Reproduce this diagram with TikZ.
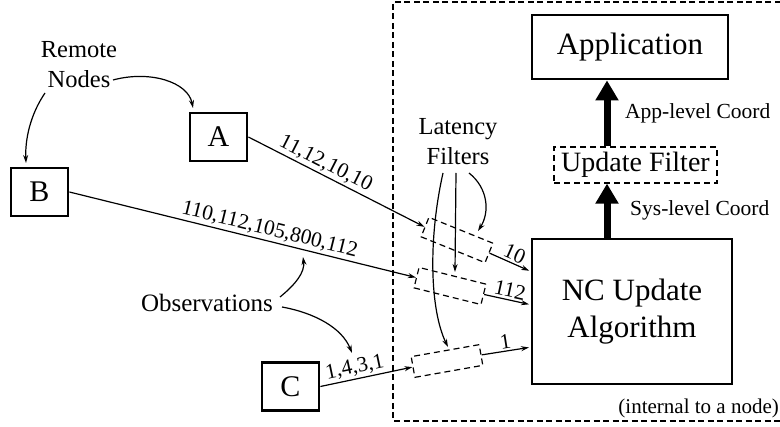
\documentclass[tikz,border=0pt]{standalone}
\usepackage{fontspec}
\setmainfont{Liberation Serif}
\usetikzlibrary{arrows.meta,calc}
\begin{document}
\begin{tikzpicture}[x=1pt,y=-1pt,
  solidbox/.style={draw,line width=2.8pt,inner sep=0pt},
  filterbox/.style={draw,line width=1.2pt,dash pattern=on 6pt off 4pt,minimum width=69pt,minimum height=21pt,inner sep=0pt},
  thinarrow/.style={line width=1.2pt,-{Stealth[length=8pt,width=5pt]}},
  bigarrow/.style={line width=7pt,-{Triangle[length=20pt,width=22pt]}},
  lbl/.style={font=\fontsize{21.5}{24}\selectfont, sloped, above, inner sep=2pt},
  txt/.style={font=\fontsize{24.5}{30}\selectfont, align=center, inner sep=0pt}
]
\useasboundingbox (0,0) rectangle (780,427);

% outer dashed region (cut at right edge)
\draw[line width=1.1pt,dash pattern=on 6pt off 3.5pt] (790,2) -- (393,2) -- (393,421) -- (790,421);

% main boxes
\node[solidbox,minimum width=196pt,minimum height=64pt,font=\fontsize{31}{36}\selectfont] (App) at (630,47) {Application};
\node[draw,line width=1.2pt,dash pattern=on 6pt off 4pt,minimum width=163pt,minimum height=36pt,inner sep=0pt,font=\fontsize{28}{32}\selectfont] (UF) at (635.5,165) {Update Filter};
\node[solidbox,minimum width=200pt,minimum height=145pt,align=center,font=\fontsize{31}{37}\selectfont] (NC) at (632,311.5) {NC Update\\Algorithm};

% remote nodes
\node[solidbox,minimum width=57pt,minimum height=48pt,font=\fontsize{30}{34}\selectfont] (A) at (218.5,137) {A};
\node[solidbox,minimum width=57pt,minimum height=48pt,font=\fontsize{30}{34}\selectfont] (B) at (39.5,192) {B};
\node[solidbox,minimum width=57pt,minimum height=48pt,font=\fontsize{30}{34}\selectfont] (C) at (290.5,386.5) {C};

% latency filters
\node[filterbox,rotate=-22] (f1) at (457,240) {};
\node[filterbox,rotate=-14] (f2) at (450,286) {};
\node[filterbox,rotate=10] (f3) at (447,361) {};

% thick arrows
\coordinate (ax) at (607,0);
\draw[bigarrow] (UF.north -| ax) -- (App.south -| ax);
\draw[bigarrow] (NC.north -| ax) -- (UF.south -| ax);
\node[anchor=west,inner sep=0pt,font=\fontsize{21.5}{24}\selectfont] (appl) at (625,113) {App-level Coord};
\node[anchor=west,inner sep=0pt,font=\fontsize{21.5}{24}\selectfont] (sysl) at (630,210) {Sys-level Coord};
\node[anchor=east,inner sep=0pt,font=\fontsize{21}{24}\selectfont] (intl) at (779,408) {(internal to a node)};

% observation lines
\draw[thinarrow] (A.east) -- node[lbl,pos=0.41] {11,12,10,10} (f1.west);
\draw[thinarrow] (B.east) -- node[lbl,pos=0.57] {110,112,105,800,112} (f2.west);
\draw[thinarrow] (C.east) -- node[lbl,pos=0.40] {1,4,3,1} (f3.west);

\coordinate (n1) at (532,272);
\coordinate (n2) at (532,305);
\coordinate (n3) at (532,347);
\draw[thinarrow,shorten >=3pt] (f1.east) -- node[lbl] {10} (n1);
\draw[thinarrow,shorten >=3pt] (f2.east) -- node[lbl] {112} (n2);
\draw[thinarrow,shorten >=3pt] (f3.east) -- node[lbl] {1} (n3);

% Latency Filters label
\node[txt] (lat) at (458,142) {Latency\\Filters};
\coordinate (l1) at (443,173);
\coordinate (l2) at (456,173);
\coordinate (l3) at (469,173);
\coordinate (t1) at (448,347);
\coordinate (t2) at (455,272);
\coordinate (t3) at (478,231);
\draw[thinarrow] (l1) .. controls (428,240) and (430,310) .. (t1);
\draw[thinarrow] (l2) -- (t2);
\draw[thinarrow] (l3) .. controls (488,188) and (490,212) .. (t3);

% Remote Nodes label
\node[txt] (rem) at (79,65) {Remote\\Nodes};
\coordinate (r1) at (113,80);
\coordinate (r2) at (45,93);
\coordinate (ra) at (193,108);
\coordinate (rb) at (26,163);
\draw[thinarrow] (r1) .. controls (150,70) and (188,82) .. (ra);
\draw[thinarrow] (r2) .. controls (30,115) and (25,140) .. (rb);

% Observations label
\node[txt,font=\fontsize{25}{30}\selectfont] (obs) at (207,303) {Observations};
\coordinate (o1) at (280,297);
\coordinate (o2) at (282,307);
\coordinate (oa) at (303,257);
\coordinate (oc) at (352,353);
\draw[thinarrow] (o1) .. controls (296,284) and (305,272) .. (oa);
\draw[thinarrow] (o2) .. controls (315,313) and (342,328) .. (oc);
\end{tikzpicture}
\end{document}
